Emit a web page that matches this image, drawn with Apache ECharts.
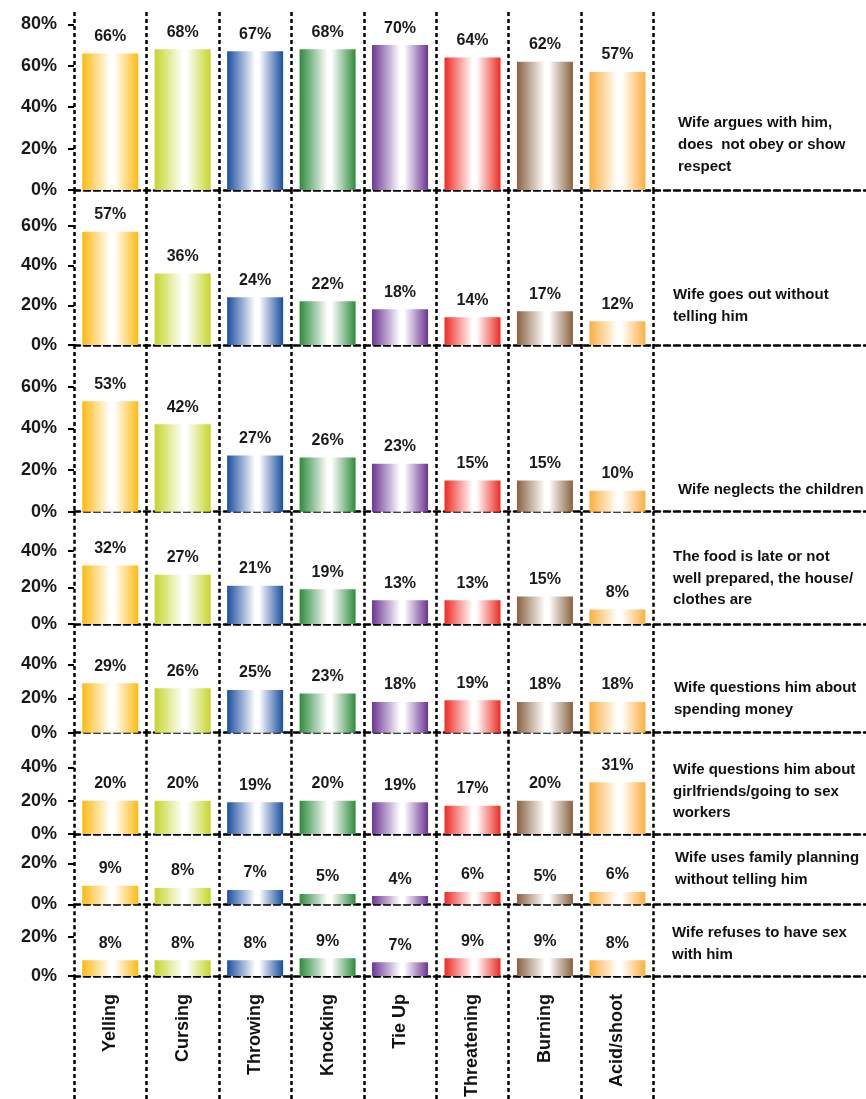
<!DOCTYPE html>
<html>
<head>
<meta charset="utf-8">
<title>Violence by reason</title>
<script src="https://cdn.jsdelivr.net/npm/echarts@6/dist/echarts.min.js"></script>
<style>
    html, body { margin: 0; padding: 0; background: #fff; }
    #chart { width: 866px; height: 1099px; }
</style>
</head>
<body>
<div id="chart"></div>
<script>
// categories (type of violence)
var categories = ['Yelling', 'Cursing', 'Throwing', 'Knocking', 'Tie Up', 'Threatening', 'Burning', 'Acid/shoot'];

// one array per reason, in %
var arguesData = [66, 68, 67, 68, 70, 64, 62, 57];
var goesOutData = [57, 36, 24, 22, 18, 14, 17, 12];
var neglectsData = [53, 42, 27, 26, 23, 15, 15, 10];
var foodData = [32, 27, 21, 19, 13, 13, 15, 8];
var moneyData = [29, 26, 25, 23, 18, 19, 18, 18];
var girlfriendsData = [20, 20, 19, 20, 19, 17, 20, 31];
var planningData = [9, 8, 7, 5, 4, 6, 5, 6];
var refusesData = [8, 8, 8, 9, 7, 9, 9, 8];

var reasons = [
    'Wife argues with him,\ndoes  not obey or show\nrespect',
    'Wife goes out without\ntelling him',
    'Wife neglects the children',
    'The food is late or not\nwell prepared, the house/\nclothes are',
    'Wife questions him about\nspending money',
    'Wife questions him about\ngirlfriends/going to sex\nworkers',
    'Wife uses family planning\nwithout telling him',
    'Wife refuses to have sex\nwith him'
];

// y tick labels of each panel
var ticks80 = [0, 20, 40, 60, 80];
var ticks60 = [0, 20, 40, 60];
var ticks40 = [0, 20, 40];
var ticks20 = [0, 20];

var panelData = [arguesData, goesOutData, neglectsData, foodData, moneyData, girlfriendsData, planningData, refusesData];
var panelTicks = [ticks80, ticks60, ticks60, ticks40, ticks40, ticks40, ticks20, ticks20];

// layout of the stacked panels (pixels) and axis max (%)
var panelTop = [12, 190, 345, 511.7, 624, 732.7, 834, 904.3];
var panelBase = [190, 345, 511.7, 624, 732.7, 834, 904.3, 976];
var panelMax = [86, 78, 80, 61.5, 63.6, 60.8, 34.3, 36.5];
var noteLeft = [678, 673, 678, 673, 674, 673, 675, 672];
var noteTop = [112.5, 284, 479, 546, 677, 759, 847.5, 922];

var barColors = ['#FDBA12', '#C5D52A', '#1A4E9F', '#2E8B3C', '#6B3594', '#EE2A22', '#8A6240', '#FBAF3F'];

var FONT = "'Liberation Sans', Arial, sans-serif";

function barGradient(c) {
    return new echarts.graphic.LinearGradient(0, 0, 1, 0, [
        { offset: 0, color: c },
        { offset: 0.5, color: '#ffffff' },
        { offset: 0.57, color: '#ffffff' },
        { offset: 1, color: c }
    ]);
}

var chart = echarts.init(document.getElementById('chart'));

// 8 real categories + 3 empty ones for the text column on the right
var xCats = categories.concat(['', '', '']);
var splitColors = [];
for (var k = 0; k < 12; k++) splitColors.push(k <= 8 ? '#000' : 'rgba(0,0,0,0)');

var grids = [], xAxes = [], yAxes = [], series = [], titles = [];

for (var i = 0; i < panelData.length; i++) {
    grids.push({
        left: 74,
        width: 797,
        top: panelTop[i],
        height: panelBase[i] - panelTop[i],
        outerBoundsMode: 'none'
    });
    xAxes.push({
        gridIndex: i,
        type: 'category',
        data: xCats,
        boundaryGap: true,
        axisLine: { show: true, lineStyle: { color: '#000', width: 2.5, type: [6, 4] } },
        axisTick: { show: false },
        axisLabel: {
            show: i === panelData.length - 1,
            interval: 0,
            rotate: 90,
            margin: 18,
            fontSize: 18,
            fontWeight: 'bold',
            fontFamily: FONT,
            color: '#111'
        },
        splitLine: { show: true, interval: 0, lineStyle: { color: splitColors, width: 2.5, type: [4, 3] } }
    });
    yAxes.push({
        gridIndex: i,
        type: 'value',
        min: 0,
        max: panelMax[i],
        interval: 20,
        axisLine: { show: false },
        axisTick: { show: true, length: 6, customValues: panelTicks[i], lineStyle: { color: '#000', width: 2 } },
        axisLabel: {
            customValues: panelTicks[i],
            formatter: '{value}%',
            margin: 17,
            fontSize: 18,
            fontWeight: 'bold',
            fontFamily: FONT,
            color: '#1a1a1a'
        },
        splitLine: { show: false }
    });
    series.push({
        type: 'bar',
        xAxisIndex: i,
        yAxisIndex: i,
        data: panelData[i],
        barWidth: 56,
        itemStyle: {
            color: function (p) { return barGradient(barColors[p.dataIndex]); }
        },
        label: {
            show: true,
            position: 'top',
            distance: 9,
            formatter: '{c}%',
            fontSize: 16,
            fontWeight: 'bold',
            fontFamily: FONT,
            color: '#1a1a1a'
        }
    });
    titles.push({
        text: reasons[i],
        left: noteLeft[i],
        top: noteTop[i],
        padding: 0,
        textStyle: {
            fontSize: 15,
            fontWeight: 'bold',
            fontFamily: FONT,
            lineHeight: 21.7,
            color: '#111'
        }
    });
}

// bottom strip: only carries the dotted verticals down under the category names
grids.push({ left: 74, width: 797, top: 976, height: 123, outerBoundsMode: 'none' });
xAxes.push({
    gridIndex: panelData.length,
    type: 'category',
    data: xCats,
    boundaryGap: true,
    axisLine: { show: false },
    axisTick: { show: false },
    axisLabel: { show: false },
    splitLine: { show: true, interval: 0, lineStyle: { color: splitColors, width: 2.5, type: [4, 3] } }
});
yAxes.push({ gridIndex: panelData.length, type: 'value', show: false });

chart.setOption({
    animation: false,
    backgroundColor: '#fff',
    textStyle: { fontFamily: FONT },
    title: titles,
    grid: grids,
    xAxis: xAxes,
    yAxis: yAxes,
    series: series
});
</script>
</body>
</html>
